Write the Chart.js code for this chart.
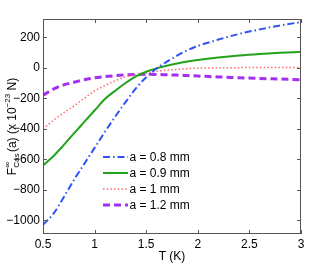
<!DOCTYPE html>
<html>
<head>
<meta charset="utf-8">
<script src="https://cdn.jsdelivr.net/npm/chart.js@4.4.1/dist/chart.umd.min.js"></script>
<style>
html,body{margin:0;padding:0;background:#fff;}
#wrap{width:332px;height:265px;position:relative;}
</style>
</head>
<body>
<div id="wrap"><canvas id="c" width="332" height="265"></canvas></div>
<script>
const temps = [0.5,0.6,0.7,0.8,0.9,1.0,1.1,1.2,1.3,1.4,1.5,1.6,1.7,1.8,1.9,2.0,2.2,2.4,2.6,2.8,3.0];
const a08 = [-1030,-958,-850,-735,-630,-525,-420,-320,-225,-135,-62,-5,40,80,115,143,185,222,252,278,300];
const a09 = [-640,-580,-507,-430,-355,-280,-205,-150,-100,-57,-26,-4,13,28,41,51,67,80,90,98,105];
const a10 = [-400,-345,-295,-250,-200,-152,-117,-85,-60,-45,-32,-23,-16,-11,-6,-3,0,1,2,2,2];
const a12 = [-180,-140,-112,-95,-78,-66,-58,-52,-47,-44,-43,-44,-46,-48,-51,-54,-60,-65,-70,-74,-78];
const seriesLabels = ['a = 0.8 mm','a = 0.9 mm','a = 1 mm','a = 1.2 mm'];
const xTicks = [0.5,1,1.5,2,2.5,3];
const yTicks = [-1000,-800,-600,-400,-200,0,200];

const FONT = '"Liberation Sans", Arial, Helvetica, sans-serif';
const AXC = '#555555';

function pts(arr){ return temps.map((t,i)=>({x:t,y:arr[i]})); }

const styles = [
  {color:'#2f52f5', dash:[7,3,1.5,3], width:2},
  {color:'#22a31c', dash:[], width:2},
  {color:'#ff6a6a', dash:[1.5,2.2], width:1.5},
  {color:'#a52ef0', dash:[7,4], width:3}
];
const allData = [a08,a09,a10,a12];

const datasets = allData.map((d,i)=>({
  label: seriesLabels[i],
  data: pts(d),
  borderColor: styles[i].color,
  borderDash: styles[i].dash,
  borderWidth: styles[i].width,
  pointRadius: 0,
  fill: false,
  cubicInterpolationMode: 'monotone'
}));

function minus(s){ return String(s).replace('-', '\u2212'); }

const decor = {
  id:'decor',
  afterDraw(chart){
    const ctx = chart.ctx;
    const a = chart.chartArea;
    const xs = chart.scales.x, ys = chart.scales.y;
    ctx.save();
    ctx.strokeStyle = AXC;
    ctx.lineWidth = 1;
    ctx.setLineDash([]);
    ctx.strokeRect(Math.round(a.left)+0.5, Math.round(a.top)+0.5, Math.round(a.right-a.left)-1, Math.round(a.bottom-a.top)-1);
    const L=4;
    ctx.beginPath();
    xTicks.forEach(v=>{
      const px = Math.round(xs.getPixelForValue(v))+0.5;
      ctx.moveTo(px,a.bottom); ctx.lineTo(px,a.bottom-L);
      ctx.moveTo(px,a.top); ctx.lineTo(px,a.top+L);
    });
    yTicks.forEach(v=>{
      const py = Math.round(ys.getPixelForValue(v))+0.5;
      ctx.moveTo(a.left,py); ctx.lineTo(a.left+L,py);
      ctx.moveTo(a.right,py); ctx.lineTo(a.right-L,py);
    });
    ctx.stroke();

    // legend
    const rowY = [157,173,189,205];
    ctx.textBaseline='middle';
    ctx.textAlign='left';
    ctx.font = '12px '+FONT;
    datasets.forEach((ds,i)=>{
      const st = styles[i];
      ctx.beginPath();
      ctx.strokeStyle = st.color;
      ctx.lineWidth = st.width;
      ctx.setLineDash(st.dash);
      ctx.moveTo(103,rowY[i]); ctx.lineTo(128,rowY[i]);
      ctx.stroke();
      ctx.setLineDash([]);
      ctx.fillStyle='#000';
      ctx.fillText(ds.label,129.5,rowY[i]+0.5);
    });

    // x title
    ctx.fillStyle='#000';
    ctx.textAlign='center';
    ctx.textBaseline='middle';
    ctx.font='12px '+FONT;
    ctx.fillText('T (K)', (a.left+a.right)/2, 257);

    // y title with sub/superscripts
    ctx.save();
    ctx.translate(15.5,(a.top+a.bottom)/2);
    ctx.rotate(-Math.PI/2);
    const big='12px '+FONT, small='8px '+FONT;
    const parts=[
      {t:'F',f:big,dy:0,adv:true},
      {t:'\u221E',f:small,dy:-6,adv:false},
      {t:'Cas',f:small,dy:3.5,adv:true},
      {t:'(a) (x 10',f:big,dy:0,adv:true,pre:1.5},
      {t:'\u221223',f:small,dy:-6,adv:true},
      {t:' N)',f:big,dy:0,adv:true}
    ];
    let total=0;
    parts.forEach(p=>{ctx.font=p.f; p.w=ctx.measureText(p.t).width; if(p.adv) total+=p.w+(p.pre||0);});
    let x=-total/2;
    ctx.textAlign='left';
    ctx.textBaseline='alphabetic';
    parts.forEach(p=>{
      ctx.font=p.f;
      x+=(p.pre||0);
      ctx.fillText(p.t,x,p.dy);
      if(p.adv) x+=p.w;
    });
    ctx.restore();
    ctx.restore();
  }
};

new Chart(document.getElementById('c'),{
  type:'line',
  data:{datasets},
  options:{
    responsive:false,
    animation:false,
    layout:{padding:{top:19,right:31,left:0,bottom:0}},
    plugins:{legend:{display:false},tooltip:{enabled:false}},
    scales:{
      x:{
        type:'linear', min:0.5, max:3,
        afterBuildTicks(s){ s.ticks = xTicks.map(v=>({value:v})); },
        afterFit(s){ s.height=31; },
        grid:{display:false, drawTicks:false},
        border:{display:false},
        ticks:{color:'#000', font:{family:FONT,size:12}, padding:3, maxRotation:0,
          callback:(v)=>String(v)}
      },
      y:{
        type:'linear', min:-1090, max:320,
        afterBuildTicks(s){ s.ticks = yTicks.map(v=>({value:v})); },
        afterFit(s){ s.width=43; },
        grid:{display:false, drawTicks:false},
        border:{display:false},
        ticks:{color:'#000', font:{family:FONT,size:12}, padding:3,
          callback:(v)=>minus(v)}
      }
    }
  },
  plugins:[decor]
});
</script>
</body>
</html>
